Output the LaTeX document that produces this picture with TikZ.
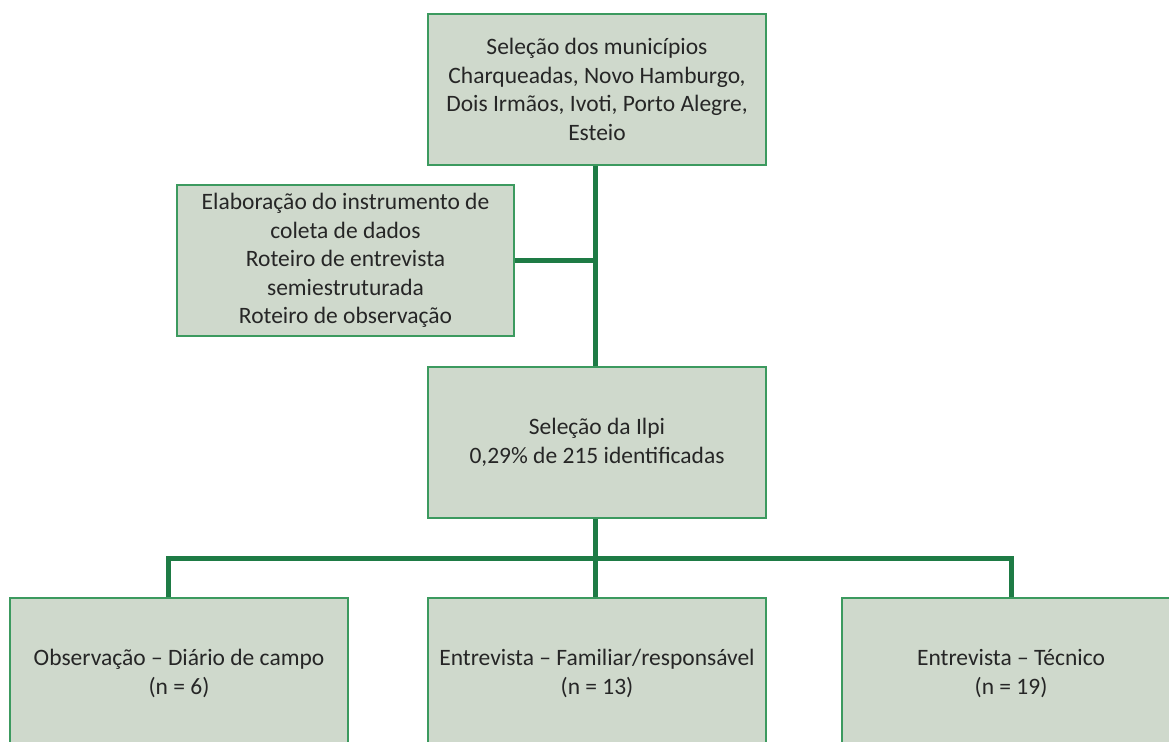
\documentclass[tikz,border=0pt]{standalone}
\usepackage{fontspec}
\setmainfont{Carlito}
\definecolor{boxfill}{HTML}{CFD9CC}
\definecolor{boxline}{HTML}{3C9A5F}
\definecolor{conn}{HTML}{1E7B45}
\definecolor{txt}{HTML}{262626}
\tikzset{
  box/.style={draw=boxline, line width=1.5pt, fill=boxfill, minimum width=338pt, minimum height=151pt,
    align=center, inner sep=0pt, text=txt, font=\fontsize{23.5}{28.5}\selectfont},
  link/.style={draw=conn, line width=5pt}
}
\begin{document}
\begin{tikzpicture}[x=1pt,y=-1pt]
\useasboundingbox (0,0) rectangle (1169,741);
\clip (0,0) rectangle (1169,741);
\node[box] (top) at (597,89.5) {Seleção dos municípios\\Charqueadas, Novo Hamburgo,\\Dois Irmãos, Ivoti, Porto Alegre,\\Esteio};
\node[box, minimum width=337pt] (elab) at (345.5,260.5) {Elaboração do instrumento de\\coleta de dados\\Roteiro de entrevista\\semiestruturada\\Roteiro de observação};
\node[box] (mid) at (597,442.5) {Seleção da Ilpi\\0,29\% de 215 identificadas};
\coordinate (spine) at (595,0);
\coordinate (hub) at (595,558);
\node[box] (b1) at (179,673.5) {Observação – Diário de campo\\(n = 6)};
\node[box] (b2) at (597,673.5) {Entrevista – Familiar/responsável\\(n = 13)};
\node[box] (b3) at (1011,673.5) {Entrevista – Técnico\\(n = 19)};
\coordinate (c1) at (168,558);
\coordinate (c3) at (1011,558);
\path[link] (top.south -| spine) -- (mid.north -| spine);
\path[link] (elab.east) -- (elab.east -| spine);
\path[link] (mid.south -| spine) -- (hub);
\path[link] (b1.north -| c1) -- (c1) -- (c3) -- (b3.north);
\path[link] (hub) -- (b2.north -| spine);
\end{tikzpicture}
\end{document}
